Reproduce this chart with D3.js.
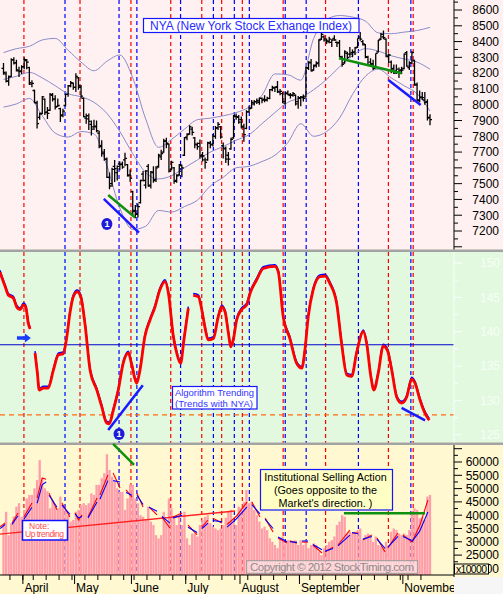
<!DOCTYPE html>
<html><head><meta charset="utf-8">
<script src="https://cdn.jsdelivr.net/npm/d3@7"></script>
<style>body{margin:0;background:#fff}svg{display:block;font-family:"Liberation Sans",Arial,sans-serif}</style>
</head><body><svg id="c" width="503" height="594"></svg>
<script>
// ---------- DATA ----------
const monthNames = ["April","May","June","July","August","September","October","November"];
const monthStartDay = [8,28,50,71,92,115,134,155];
const weekStartDay = [3,8,12,17,22,27,32,37,42,47,51,56,61,66,71,75,80,85,90,95,100,105,110,115,119,124,129,134,139,144,149,154,157,162];
const priceTicks = [7200,7300,7400,7500,7600,7700,7800,7900,8000,8100,8200,8300,8400,8500,8600];
const oscTicks = [125,130,135,140,145,150];
const volTicks = [20000,25000,30000,35000,40000,45000,50000,55000,60000];

const nyaOpen = [8230,8195,8150,8180,8285,8265,8215,8215,8240,8280,
8235,8130,8090,8010,7920,7945,8035,7955,7965,8060,
8035,7990,7975,7935,7995,8065,8120,8135,8110,8170,
8110,8040,7915,7910,7875,7860,7860,7820,7740,7700,
7655,7540,7500,7610,7570,7625,7625,7650,7620,7555,
7450,7330,7305,7380,7560,7490,7610,7490,7570,7525,
7610,7670,7700,7770,7750,7590,7600,7520,7555,7615,
7680,7795,7815,7845,7790,7745,7755,7680,7650,7650,
7755,7750,7800,7855,7860,7740,7720,7680,7720,7790,
7925,7920,7905,7860,7850,7955,7980,8005,8020,8015,
8040,8035,8030,8040,8095,8105,8115,8080,8070,8010,
8075,8060,8060,8060,8020,8040,8045,8050,8230,8265,
8220,8250,8265,8415,8430,8405,8400,8395,8420,8395,
8395,8300,8265,8325,8320,8330,8335,8365,8430,8400,
8380,8300,8270,8260,8240,8335,8415,8430,8415,8305,
8270,8230,8215,8210,8220,8230,8330,8235,8265,8280,
8125,8025,8050,8030,8020,7920];
const nyaHigh = [8265,8210,8185,8295,8300,8285,8240,8250,8300,8290,
8240,8155,8095,8025,7950,8055,8040,7985,8075,8075,
8060,8040,7980,7975,8070,8125,8150,8140,8200,8175,
8125,8045,7945,7945,7900,7905,7900,7835,7775,7720,
7665,7570,7600,7650,7615,7640,7640,7695,7625,7590,
7455,7365,7375,7525,7580,7585,7625,7580,7610,7610,
7690,7715,7785,7790,7755,7645,7605,7560,7625,7620,
7795,7820,7870,7860,7795,7760,7780,7700,7665,7765,
7770,7815,7865,7890,7865,7760,7735,7700,7790,7935,
7945,7935,7925,7880,7965,7990,8030,8030,8040,8045,
8045,8060,8050,8100,8120,8115,8150,8100,8080,8080,
8090,8075,8080,8065,8055,8055,8065,8240,8275,8290,
8255,8275,8415,8475,8440,8420,8430,8415,8440,8400,
8410,8310,8345,8335,8365,8350,8365,8420,8460,8410,
8385,8310,8295,8285,8325,8410,8455,8470,8420,8325,
8280,8255,8255,8235,8240,8325,8340,8275,8340,8285,
8140,8090,8080,8080,8035,7940];
const nyaLow = [8190,8140,8120,8175,8255,8210,8175,8195,8225,8225,
8125,8110,8010,7850,7905,7940,7935,7910,7960,8020,
7970,7985,7890,7920,7990,8050,8110,8095,8080,8095,
8040,7920,7880,7840,7805,7840,7825,7725,7670,7645,
7535,7465,7480,7510,7520,7585,7595,7610,7545,7510,
7300,7280,7285,7375,7515,7470,7480,7470,7505,7510,
7600,7650,7695,7725,7570,7585,7500,7505,7550,7540,
7675,7775,7810,7805,7725,7715,7660,7640,7595,7645,
7725,7735,7785,7840,7785,7660,7630,7615,7715,7785,
7905,7880,7850,7765,7845,7950,7975,7995,8005,8000,
8010,8015,8020,8035,8085,8080,8075,8060,8010,8000,
8060,8040,8050,7995,7975,7990,8020,8045,8220,8210,
8215,8235,8240,8410,8400,8385,8390,8365,8405,8365,
8300,8240,8260,8280,8300,8300,8315,8360,8405,8375,
8295,8245,8250,8220,8230,8330,8410,8415,8300,8265,
8200,8195,8195,8170,8195,8225,8240,8220,8260,8120,
8025,8015,8030,8000,7900,7870];
const nyaClose = [8205,8150,8175,8285,8265,8220,8210,8240,8285,8270,
8140,8135,8015,7880,7940,8050,7950,7945,8065,8035,
7985,7995,7930,7960,8065,8120,8140,8110,8180,8120,
8055,7925,7930,7895,7845,7865,7835,7735,7690,7655,
7540,7485,7590,7595,7610,7620,7605,7660,7550,7535,
7325,7310,7355,7520,7520,7580,7485,7575,7520,7600,
7680,7690,7770,7755,7580,7635,7515,7550,7620,7600,
7790,7810,7860,7825,7750,7735,7675,7675,7635,7760,
7745,7800,7850,7875,7795,7725,7655,7655,7780,7930,
7925,7890,7865,7810,7955,7975,8015,8020,8025,8040,
8030,8030,8040,8095,8110,8110,8085,8085,8020,8070,
8065,8060,8070,8005,8045,8050,8040,8235,8270,8215,
8245,8260,8410,8445,8415,8405,8415,8410,8410,8390,
8305,8255,8335,8300,8320,8330,8360,8420,8415,8385,
8305,8250,8255,8230,8325,8410,8445,8425,8310,8315,
8225,8200,8225,8215,8220,8320,8245,8265,8330,8130,
8030,8045,8045,8015,7915,7905];

const bandDay = [0,5,10,15,20,25,30,35,40,45,50,55,60,65,70,75,80,85,90,95,100,105,110,115,120,125,130,135,140,145,150,155,160,165];
const bandUpper = [8330,8355,8370,8410,8420,8345,8270,8215,8275,8315,8170,7910,7730,7780,7845,7905,7915,7930,7950,7985,8060,8195,8190,8155,8420,8540,8565,8555,8530,8455,8450,8460,8470,8490];
const bandMid = [8160,8180,8205,8170,8120,8070,8050,8015,7945,7830,7690,7570,7530,7550,7600,7650,7700,7735,7775,7810,7880,7950,8015,8045,8095,8160,8240,8310,8355,8340,8310,8290,8270,8225];
const bandLower = [7985,8005,8040,7930,7820,7795,7830,7815,7615,7345,7210,7230,7330,7320,7355,7395,7485,7540,7600,7610,7640,7680,7760,7880,7800,7830,7915,8065,8180,8225,8170,8120,8070,7960];

const redCycleDay = [7.9,29.6,49.3,64.7,76.7,84.4,92.4,108.2,124.6,148.9,158.5];
const blueCycleDay = [23.8,44.7,51.6,68.5,81.2,89.3,95.1,109.0,117.1,137.3,157.6];

// oscillator (null = break in line)
const oscDay = [-1.4,0.6,1.9,3.8,5.1,6.4,7.7,8.6,9.6,10.3,null,
12.2,13.1,13.8,15.4,17.3,19.3,21.2,23.1,24.4,25.7,27,28.5,29.9,31.5,33.5,36.1,38,39.9,40.9,42.5,44.4,46.3,48.3,49.6,51.5,52.8,54.7,56.7,58.6,60.5,62.5,63.8,65.7,67,68.5,69.8,71.5,null,
73.4,75.4,76.7,77.9,79.2,81.2,83.1,84.4,85.7,87,87.9,88.9,90.2,92.1,94.1,95.4,97.9,100.5,105,106.3,108.2,110.8,113.4,115.4,116.6,117.9,119.8,122.4,124.4,126.3,128.9,130.8,132.8,134.7,136.6,139.2,140.5,142.1,143.3,145,146.9,148.5,150.2,152.1,154,156,157.9,159.2,161.1,163.1,164.7];
const oscVal = [148.7,146.6,145.3,144.9,143.6,143.2,143.9,143.6,141.2,140.4,null,
136.9,134,131.5,131.8,131.8,134.4,136.6,136.8,139,142.7,145.1,145.8,145.1,141.2,134.4,131.5,129.1,126.7,126.6,128.6,131.5,135.4,136.9,135.2,132.5,134.4,139.3,141.7,143.6,146.1,147.3,145.6,139.3,136.9,135.4,138.8,143.4,null,
145.3,145.1,143.2,140.7,138.8,139.0,142.2,143.6,142.9,139.8,137.8,138.8,141.7,143.2,143.9,145.6,147.5,149.2,149.5,148.7,142.2,139,135.4,134.7,137.3,142.2,146.1,148,148.1,147,144.1,138.3,133.7,133.5,136.9,140,138.3,133.5,131.5,134,137.9,137.3,134.4,130.5,129.6,130.5,133.1,132.5,130.1,128.1,127.1];
const oscZeroLevel = 138.1;
const oscLowLevel = 127.9;

const volume = [36300,41300,32500,37000,39400,43200,44500,39400,42000,46300,
47600,47600,50100,53200,60700,53900,50100,49000,42600,45700,
43200,42600,47000,43800,42000,40000,37600,38200,41300,42000,
43800,44500,43800,44500,48200,47600,51400,51400,53900,55800,
62900,57000,54500,52600,50100,48800,48800,42000,46300,51600,
51400,46300,44500,40000,39400,38200,43200,37600,36300,32500,
31300,32500,41300,37600,46300,42600,39400,36300,39400,36300,
41300,31300,28800,33100,33100,32000,36300,38200,39400,40000,
37000,35700,35000,34400,35000,36300,39000,41300,42000,37600,
36300,43200,42600,45000,49500,44500,45100,42000,40000,37600,
35000,35700,34400,31300,30000,28800,27600,31300,32000,29400,
30600,30600,30400,30600,28800,30600,28800,30600,27600,28800,
29400,28800,26300,25000,27600,28800,30000,30600,32000,36300,
37600,40000,39400,33100,33800,33100,33800,34400,35000,30600,
32500,33100,32500,30000,32000,28800,28200,27600,30000,28800,
33800,35000,34400,33100,32500,33100,32500,34400,41300,42600,
42000,38900,39400,38200,47000,47600];

const volSegDay = [[-1.3,0.6],[3.3,5.6],[7.9,11],[13,15,16.5],[17.6,20.7],[22.6,25.7],[27.7,29,30.4],[32.7,36.2],[37.3,40.4],[42.4,45.1],[47.4,49.7],[51.6,54],[56.3,59.4],[61.3,64.4],[65.6,69.1],[71.4,74.9],[76.8,79.1],[81,84.5],[86.5,90,94.2],[96.1,99.2],[101.2,104.3],[106.2,109.7],[110.8,113.5],[115.5,117.8],[119.7,123.2],[124.4,127.5],[129.4,134],[134.8,137.1],[139,142.5],[144.5,147.6],[148.7,152.6],[154.5,158],[158,161,164.2]];
const volSegRed = [[35600,37100],[37100,40800],[39300,44600],[46500,54000,53500],[48300,42000],[44600,39300],[40800,38200,40100],[39300,46500],[47600,55100],[55900,50200],[49500,46800],[48300,43100],[43100,40100],[39300,35200],[39300,40800],[36300,32600],[35600,38200],[38900,37100],[36500,39500,44900],[45000,39300],[38900,33700],[31400,29500],[30300,29500],[29900,29900],[28800,25800],[26200,28000],[28800,34400],[33300,33300],[30700,32600],[31400,26200],[27700,33300],[32600,29900],[29900,36000,45700]];
const volSegBlue = [[35000,36500],[36500,39800],[38500,43000],[44500,51500,52500],[47500,43000],[43800,40300],[40500,39000,39500],[39000,45000],[46000,53000],[53000,52500],[48500,47500],[47500,44000],[43000,41500],[39500,37000],[39000,40000],[35500,33500],[35000,37000],[38000,37500],[35500,38500,43100],[44000,40500],[38500,35000],[31800,30000],[30000,29800],[30300,30300],[29000,27000],[26500,27500],[28500,32500],[33500,33000],[31000,32000],[31000,27500],[28000,32000],[32000,30500],[30000,34000,41200]];

// trend lines [day, value]
const priceGreenLines = [[[40.5,7428],[50.9,7285]],[[129.8,8294],[154,8199]]];
const priceBlueLines = [[[38.8,7403],[52.4,7190]],[[148.9,8157],[161.4,7998]]];
const priceMarker = [40.0,7245];
const oscBlueLines = [[[40.5,125.7],[53.9,132.2]],[[154,128.9],[163.1,127.1]]];
const oscMarker = [44.7,125.1];
const oscArrow = [[5.2,139.1],[10.6,139.1]];
const volRedTrend = [[-1.35,32900],[89.6,41600]];
const volGreenLines = [[[42.4,66800],[50.5,58900]],[[131.7,40700],[163.1,40700]]];

// ---------- DRAWING ----------
const svg = d3.select("#c");
const PR = 454;
const P1 = [0,249.5], P2 = [252,442.5], P3 = [445,575];
const x = d3.scaleLinear().domain([0,165]).range([3.5,430]);
const yP = d3.scaleLinear().domain([7200,8600]).range([231,10]);
const yO = d3.scaleLinear().domain([125,150]).range([434.75,263]);
const yV = d3.scaleLinear().domain([20000,60000]).range([568.4,462]);

const defs = svg.append("defs");
function mkClip(id,p){defs.append("clipPath").attr("id",id).append("rect").attr("x",0).attr("y",p[0]).attr("width",PR).attr("height",p[1]-p[0]);}
mkClip("c1",P1); mkClip("c2",P2); mkClip("c3",P3);

// backgrounds
svg.append("rect").attr("x",0).attr("y",0).attr("width",503).attr("height",594).attr("fill","#fff8d0");
svg.append("rect").attr("x",0).attr("y",0).attr("width",503).attr("height",P1[1]).attr("fill","#fff1f1");
svg.append("rect").attr("x",0).attr("y",P2[0]).attr("width",503).attr("height",P2[1]-P2[0]).attr("fill","#e2f9df");
svg.append("rect").attr("x",PR).attr("y",577).attr("width",503-PR).attr("height",17).attr("fill","#f6f6f6");

// cycle lines
const cyc = svg.append("g");
function cycle(days,col){
  cyc.selectAll(null).data(days).enter().append("line")
    .attr("x1",d=>x(d)).attr("x2",d=>x(d)).attr("y1",0).attr("y2",575)
    .attr("stroke",col).attr("stroke-width",1.2).attr("stroke-dasharray","4,3");
}
cycle(redCycleDay,"#ff0000"); cycle(blueCycleDay,"#0000ff");

// separators
svg.append("rect").attr("x",0).attr("y",P1[1]).attr("width",503).attr("height",2.5).attr("fill","#a3a3a3");
svg.append("rect").attr("x",0).attr("y",P2[1]).attr("width",503).attr("height",2.5).attr("fill","#a3a3a3");

// ---- top panel ----
const g1 = svg.append("g").attr("clip-path","url(#c1)");
const bandLine = arr => d3.line().x((d,i)=>x(bandDay[i])).y(d=>yP(d)).curve(d3.curveMonotoneX)(arr);
[bandUpper,bandMid,bandLower].forEach(a=>g1.append("path").attr("d",bandLine(a)).attr("fill","none").attr("stroke","#8a8ac8").attr("stroke-width",1));
const bars = g1.append("g").attr("stroke","#000").attr("stroke-width",1.3);
nyaClose.forEach((c,i)=>{
  const cx = x(i);
  bars.append("line").attr("x1",cx).attr("x2",cx).attr("y1",yP(nyaHigh[i])).attr("y2",yP(nyaLow[i]));
  bars.append("line").attr("x1",cx-2).attr("x2",cx).attr("y1",yP(nyaOpen[i])).attr("y2",yP(nyaOpen[i]));
  bars.append("line").attr("x1",cx).attr("x2",cx+2).attr("y1",yP(c)).attr("y2",yP(c));
});
const segLine = (ys)=>d3.line().x(d=>x(d[0])).y(d=>ys(d[1]));
priceGreenLines.forEach(l=>g1.append("path").attr("d",segLine(yP)(l)).attr("stroke","#0f900f").attr("stroke-width",2.5).attr("fill","none"));
priceBlueLines.forEach(l=>g1.append("path").attr("d",segLine(yP)(l)).attr("stroke","#1a1aff").attr("stroke-width",2.5).attr("fill","none"));
function marker(g,px,py){
  g.append("ellipse").attr("cx",px).attr("cy",py).attr("rx",5.5).attr("ry",6).attr("fill","#1c1cd8");
  g.append("text").attr("x",px).attr("y",py+3.3).attr("text-anchor","middle").attr("font-size",9).attr("font-weight","bold").attr("fill","#fff").text("1");
}
marker(g1,x(priceMarker[0]),yP(priceMarker[1]));
// title
svg.append("rect").attr("x",143.5).attr("y",18.5).attr("width",215.5).attr("height",14).attr("fill","#fff").attr("stroke","#1515ff").attr("stroke-width",1.2);
svg.append("text").attr("x",251).attr("y",30).attr("text-anchor","middle").attr("font-size",12).attr("fill","#2a2aff").text("NYA (New York Stock Exhange Index)");

// top axis
const ax1 = svg.append("g");
ax1.append("line").attr("x1",PR).attr("x2",PR).attr("y1",0).attr("y2",P1[1]).attr("stroke","#000");
d3.range(7100,8651,50).forEach(v=>{
  const maj = v%100===0;
  ax1.append("line").attr("x1",PR).attr("x2",PR+(maj?8:4)).attr("y1",yP(v)).attr("y2",yP(v)).attr("stroke","#000");
});
ax1.selectAll(null).data(priceTicks).enter().append("text").attr("x",499).attr("y",d=>yP(d)).attr("dy","0.36em")
  .attr("text-anchor","end").attr("font-size",12).attr("fill","#000").text(d=>d);

// ---- middle panel ----
const g2 = svg.append("g").attr("clip-path","url(#c2)");
g2.append("line").attr("x1",0).attr("x2",PR).attr("y1",yO(oscZeroLevel)).attr("y2",yO(oscZeroLevel)).attr("stroke","#0000cc").attr("stroke-width",1.2);
g2.append("line").attr("x1",0).attr("x2",PR).attr("y1",yO(oscLowLevel)).attr("y2",yO(oscLowLevel)).attr("stroke","#ff6a10").attr("stroke-width",1.2).attr("stroke-dasharray","5,4");
const oscPts = oscDay.map((d,i)=>[d,oscVal[i]]);
const oscLine = d3.line().defined(d=>d[0]!==null&&d[1]!==null).x(d=>x(d[0])).y(d=>yO(d[1])).curve(d3.curveMonotoneX);
g2.append("path").attr("d",oscLine(oscPts)).attr("fill","none").attr("stroke","#0000ff").attr("stroke-width",1.5).attr("transform","translate(0,-1.8)");
g2.append("path").attr("d",oscLine(oscPts)).attr("fill","none").attr("stroke","#ff0000").attr("stroke-width",2.8);
oscBlueLines.forEach(l=>g2.append("path").attr("d",segLine(yO)(l)).attr("stroke","#1a1aff").attr("stroke-width",2.5).attr("fill","none"));
marker(g2,x(oscMarker[0]),yO(oscMarker[1]));
{
  const ax0=x(oscArrow[0][0]), ax1e=x(oscArrow[1][0]), ay=yO(oscArrow[0][1]);
  g2.append("line").attr("x1",ax0).attr("x2",ax1e-5).attr("y1",ay).attr("y2",ay).attr("stroke","#1a3cff").attr("stroke-width",3.5);
  g2.append("path").attr("d",`M${ax1e-6},${ay-4.5}L${ax1e},${ay}L${ax1e-6},${ay+4.5}Z`).attr("fill","#1a3cff");
}
svg.append("rect").attr("x",172.5).attr("y",386.5).attr("width",84.5).attr("height",22.5).attr("fill","#fff").attr("stroke","#1515ff").attr("stroke-width",1.2);
svg.append("text").attr("x",175).attr("y",396).attr("font-size",9.5).attr("fill","#3333ff").attr("textLength",79).text("Algorithm Trending");
svg.append("text").attr("x",175).attr("y",406.5).attr("font-size",9.5).attr("fill","#3333ff").attr("textLength",78).text("(Trends with NYA)");
const ax2 = svg.append("g");
ax2.append("line").attr("x1",PR).attr("x2",PR).attr("y1",P2[0]).attr("y2",P2[1]).attr("stroke","#f8fff8");
d3.range(125,150.1,2.5).forEach(v=>{
  const maj = v%5===0;
  ax2.append("line").attr("x1",PR).attr("x2",PR+(maj?8:4)).attr("y1",yO(v)).attr("y2",yO(v)).attr("stroke","#f8fff8");
});
ax2.selectAll(null).data(oscTicks).enter().append("text").attr("x",500).attr("y",d=>yO(d)).attr("dy","0.36em")
  .attr("text-anchor","end").attr("font-size",12).attr("fill","#f6fff6").text(d=>d);

// ---- bottom panel ----
const g3 = svg.append("g").attr("clip-path","url(#c3)");
g3.selectAll(null).data(volume).enter().append("rect")
  .attr("x",(d,i)=>x(i)-1.15).attr("width",2.3).attr("y",d=>yV(d)).attr("height",d=>575-yV(d)).attr("fill","#ff9eab");
g3.append("path").attr("d",segLine(yV)(volRedTrend)).attr("stroke","#ff2020").attr("stroke-width",1.4).attr("fill","none");
volSegDay.forEach((ds,k)=>{
  const r = ds.map((d,j)=>[d,volSegRed[k][j]]), b = ds.map((d,j)=>[d,volSegBlue[k][j]]);
  g3.append("path").attr("d",segLine(yV)(r)).attr("stroke","#ff0000").attr("stroke-width",1.1).attr("fill","none");
  g3.append("path").attr("d",segLine(yV)(b)).attr("stroke","#0000ff").attr("stroke-width",1.1).attr("fill","none");
});
volGreenLines.forEach(l=>svg.append("path").attr("d",segLine(yV)(l)).attr("stroke","#0f900f").attr("stroke-width",2.5).attr("fill","none"));

// note boxes
svg.append("rect").attr("x",22.5).attr("y",520.5).attr("width",45).attr("height",19.5).attr("fill","#fff").attr("stroke","#1010ff").attr("stroke-width",1.5);
svg.append("text").attr("x",29).attr("y",528.5).attr("font-size",8.5).attr("fill","#ff4a4a").text("Note:");
svg.append("text").attr("x",25).attr("y",537.3).attr("font-size",8.5).attr("fill","#ff4a4a").attr("textLength",39).text("Up trending");
svg.append("rect").attr("x",260.5).attr("y",469.5).attr("width",132).attr("height",40.5).attr("fill","#ffffc4").attr("stroke","#1515ff").attr("stroke-width",1.2);
["Institutional Selling Action","(Goes opposite to the","Market's direction. )"].forEach((t,k)=>{
  svg.append("text").attr("x",325.5).attr("y",481+k*13).attr("text-anchor","middle").attr("font-size",10.8).attr("fill","#000").text(t);
});
svg.append("rect").attr("x",246.7).attr("y",560.7).attr("width",171).attr("height",12.6).attr("fill","rgba(255,255,255,0.5)").attr("stroke","#9a9a9a");
svg.append("text").attr("x",250).attr("y",571.3).attr("font-size",11.5).attr("fill","#8c8c8c").attr("textLength",164).text("Copyright \u00a9 2012 StockTiming.com");

// volume axis
const ax3 = svg.append("g");
ax3.append("line").attr("x1",PR).attr("x2",PR).attr("y1",P3[0]).attr("y2",577).attr("stroke","#000");
d3.range(20000,65001,2500).forEach(v=>{
  const maj = v%5000===0;
  ax3.append("line").attr("x1",PR).attr("x2",PR+(maj?8:4)).attr("y1",yV(v)).attr("y2",yV(v)).attr("stroke","#000");
});
ax3.selectAll(null).data(volTicks).enter().append("text").attr("x",499).attr("y",d=>yV(d)).attr("dy","0.36em")
  .attr("text-anchor","end").attr("font-size",12).attr("fill","#000").text(d=>d);
svg.append("rect").attr("x",454.5).attr("y",564).attr("width",34).attr("height",10).attr("fill","#fff8d0").attr("stroke","#000");
svg.append("text").attr("x",456).attr("y",572.5).attr("font-size",10.5).attr("fill","#000").attr("textLength",31).text("x10000");

// x axis
const axx = svg.append("g");
defs.append("clipPath").attr("id","cx").append("rect").attr("x",0).attr("y",575).attr("width",PR).attr("height",19);
axx.append("line").attr("x1",0).attr("x2",PR).attr("y1",575).attr("y2",575).attr("stroke","#000");
weekStartDay.forEach(d=>axx.append("line").attr("x1",x(d-0.5)).attr("x2",x(d-0.5)).attr("y1",575).attr("y2",580).attr("stroke","#000"));
monthStartDay.forEach(d=>axx.append("line").attr("x1",x(d-0.5)).attr("x2",x(d-0.5)).attr("y1",575).attr("y2",584).attr("stroke","#000"));
const lab = axx.append("g").attr("clip-path","url(#cx)");
let lastEnd = -1;
monthStartDay.forEach((d,k)=>{
  const lx = x(d-0.5)+1.5;
  if (lx < lastEnd+3) return;
  const t = lab.append("text").attr("x",lx).attr("y",591.5).attr("font-size",12).attr("fill","#000").text(monthNames[k]);
  lastEnd = lx + t.node().getComputedTextLength();
});
</script>
</body></html>
